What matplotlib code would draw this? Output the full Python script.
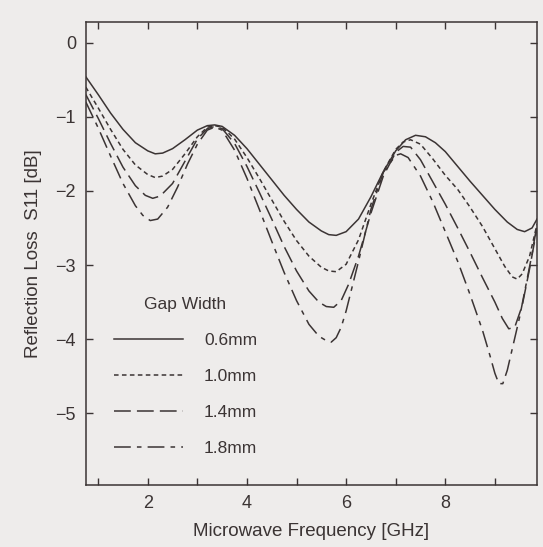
import matplotlib.pyplot as plt

plt.rcParams["font.family"] = ["Liberation Sans", "DejaVu Sans"]

# Gap width 0.6 mm (solid)
f06 = [0.75, 1.0, 1.25, 1.5, 1.75, 2.0, 2.15, 2.3, 2.5, 2.75, 3.0, 3.2, 3.35, 3.5, 3.75,
       4.0, 4.25, 4.5, 4.75, 5.0, 5.25, 5.5, 5.65, 5.8, 6.0, 6.25, 6.5, 6.75, 7.0,
       7.2, 7.4, 7.6, 7.8, 8.0, 8.25, 8.5, 8.75, 9.0, 9.25, 9.45, 9.6, 9.75, 9.85]
s06 = [-0.46, -0.70, -0.95, -1.17, -1.35, -1.46, -1.50, -1.49, -1.43, -1.31, -1.18,
       -1.12, -1.11, -1.13, -1.25, -1.43, -1.64, -1.85, -2.06, -2.25, -2.42, -2.54,
       -2.59, -2.60, -2.55, -2.38, -2.08, -1.74, -1.46, -1.31, -1.25, -1.27, -1.35,
       -1.47, -1.67, -1.87, -2.06, -2.25, -2.42, -2.52, -2.55, -2.50, -2.38]

# Gap width 1.0 mm (dotted)
f10 = [0.75, 1.0, 1.25, 1.5, 1.75, 2.0, 2.15, 2.3, 2.5, 2.75, 3.0, 3.2, 3.35, 3.5, 3.75,
       4.0, 4.25, 4.5, 4.75, 5.0, 5.25, 5.5, 5.65, 5.8, 6.0, 6.25, 6.5, 6.75, 7.0,
       7.15, 7.3, 7.5, 7.75, 8.0, 8.25, 8.5, 8.75, 9.0, 9.2, 9.35, 9.45, 9.55, 9.7, 9.85]
s10 = [-0.60, -0.88, -1.17, -1.44, -1.65, -1.78, -1.82, -1.80, -1.71, -1.50, -1.27,
       -1.14, -1.12, -1.14, -1.30, -1.55, -1.83, -2.12, -2.41, -2.67, -2.88, -3.03,
       -3.08, -3.09, -2.99, -2.66, -2.18, -1.74, -1.44, -1.34, -1.31, -1.37, -1.57,
       -1.79, -1.98, -2.22, -2.48, -2.78, -3.02, -3.16, -3.19, -3.12, -2.88, -2.45]

# Gap width 1.4 mm (long dash)
f14 = [0.75, 1.0, 1.25, 1.5, 1.75, 1.95, 2.1, 2.25, 2.5, 2.75, 3.0, 3.2, 3.35, 3.5, 3.75,
       4.0, 4.25, 4.5, 4.75, 5.0, 5.25, 5.45, 5.6, 5.75, 5.9, 6.05, 6.25, 6.5, 6.75,
       7.0, 7.15, 7.3, 7.5, 7.75, 8.0, 8.25, 8.5, 8.75, 9.0, 9.15, 9.28, 9.4, 9.55,
       9.7, 9.85]
s14 = [-0.70, -1.02, -1.36, -1.68, -1.93, -2.06, -2.10, -2.07, -1.90, -1.60, -1.30,
       -1.16, -1.13, -1.16, -1.36, -1.67, -2.02, -2.38, -2.75, -3.08, -3.35, -3.50,
       -3.56, -3.57, -3.48, -3.26, -2.88, -2.30, -1.80, -1.48, -1.40, -1.41, -1.58,
       -1.88, -2.18, -2.50, -2.83, -3.17, -3.50, -3.72, -3.86, -3.84, -3.55, -3.05, -2.50]

# Gap width 1.8 mm (dash-dot)
f18 = [0.75, 1.0, 1.25, 1.5, 1.75, 1.9, 2.05, 2.2, 2.4, 2.6, 2.8, 3.0, 3.2, 3.35, 3.5,
       3.75, 4.0, 4.25, 4.5, 4.75, 5.0, 5.25, 5.45, 5.6, 5.7, 5.8, 5.9, 6.0, 6.25,
       6.5, 6.75, 7.0, 7.1, 7.25, 7.5, 7.75, 8.0, 8.25, 8.5, 8.75, 8.9, 9.0, 9.08,
       9.16, 9.25, 9.5, 9.75, 9.85]
s18 = [-0.80, -1.15, -1.53, -1.90, -2.20, -2.33, -2.40, -2.38, -2.22, -1.95, -1.64,
       -1.37, -1.18, -1.14, -1.18, -1.45, -1.83, -2.25, -2.68, -3.10, -3.48, -3.80,
       -3.96, -4.02, -4.04, -3.98, -3.84, -3.62, -2.95, -2.25, -1.75, -1.52, -1.50,
       -1.55, -1.80, -2.15, -2.55, -2.95, -3.40, -3.88, -4.22, -4.46, -4.60, -4.60,
       -4.42, -3.70, -2.85, -2.45]

labels = ["0.6mm", "1.0mm", "1.4mm", "1.8mm"]

ink = "#3b3434"
bg = "#eeeceb"

fig = plt.figure(figsize=(5.43, 5.47), dpi=100, facecolor=bg)
ax = fig.add_axes([0.158, 0.113, 0.831, 0.847], facecolor=bg)

lw = 1.1
ax.plot(f06, s06, color=ink, lw=lw, linestyle="-", label=labels[0])
ax.plot(f10, s10, color=ink, lw=lw, linestyle=(0, (3, 2.2)), label=labels[1])
ax.plot(f14, s14, color=ink, lw=lw, linestyle=(0, (11, 4)), label=labels[2])
ax.plot(f18, s18, color=ink, lw=lw, linestyle=(0, (11, 4, 3, 4)), label=labels[3])

ax.set_xlim(0.75, 9.85)
ax.set_ylim(-5.97, 0.28)
ax.set_xticks([2, 4, 6, 8])
ax.set_xticks([1, 3, 5, 7, 9], minor=True)
ax.set_yticks([0, -1, -2, -3, -4, -5])
ax.set_yticklabels(["0", "\u22121", "\u22122", "\u22123", "\u22124", "\u22125"])
ax.tick_params(which="both", direction="in", top=True, right=True,
               length=5, width=1, color=ink, labelsize=13, labelcolor=ink, pad=7)
for s in ax.spines.values():
    s.set_color(ink)
    s.set_linewidth(1.1)

ax.set_xlabel("Microwave Frequency [GHz]", fontsize=13.5, color=ink, labelpad=8)
ax.set_ylabel("Reflection Loss  S11 [dB]", fontsize=13.5, color=ink, labelpad=10)

leg = ax.legend(title="Gap Width", loc="lower left", bbox_to_anchor=(0.027, 0.03),
                frameon=False, fontsize=12.5, title_fontsize=12.5,
                handlelength=4.0, handletextpad=1.2, labelspacing=1.2)
for t in leg.get_texts():
    t.set_color(ink)
leg.get_title().set_color(ink)

fig.savefig("out.png", dpi=100, facecolor=bg)
